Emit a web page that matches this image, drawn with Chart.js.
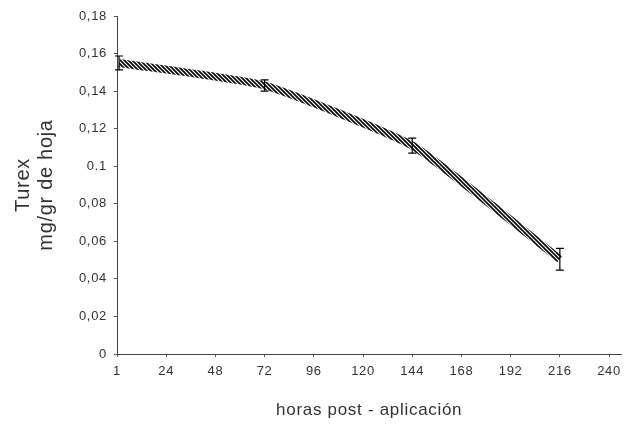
<!DOCTYPE html>
<html><head><meta charset="utf-8">
<script src="https://cdn.jsdelivr.net/npm/chart.js@4/dist/chart.umd.min.js"></script>
<style>html,body{margin:0;padding:0;background:#fff}#wrap{width:628px;height:427px;position:relative}</style>
</head><body><div id="wrap"><canvas id="c"></canvas></div>
<script>
const hours = [1, 72, 144, 216];
const turex = [0.155, 0.143, 0.111, 0.0505];
const errors = [0.0037, 0.003, 0.004, 0.0058];
const xTickLabels = ['1','24','48','72','96','120','144','168','192','216','240'];
const yTickLabels = ['0','0,02','0,04','0,06','0,08','0.1','0,12','0,14','0,16','0,18'];

function hatch(){
  const p = document.createElement('canvas');
  p.width = 4; p.height = 4;
  const g = p.getContext('2d');
  g.fillStyle = '#fff'; g.fillRect(0,0,4,4);
  g.strokeStyle = '#000'; g.lineWidth = 1.6;
  g.beginPath();
  g.moveTo(-1,-1); g.lineTo(5,5);
  g.moveTo(-1,3); g.lineTo(1,5);
  g.moveTo(3,-1); g.lineTo(5,1);
  g.stroke();
  return g.createPattern(p,'repeat');
}

const spacing = {
  id:'spacing',
  beforeInit(chart){ chart.ctx.letterSpacing = '0.7px'; },
  beforeUpdate(chart){ chart.ctx.letterSpacing = '0.7px'; },
  beforeDraw(chart){ chart.ctx.letterSpacing = '0.7px'; }
};

const errorBars = {
  id:'errorBars',
  afterDatasetsDraw(chart){
    const {ctx, scales:{x,y}} = chart;
    ctx.save();
    ctx.strokeStyle = '#000'; ctx.lineWidth = 1.2;
    hours.forEach((h,i)=>{
      const px = x.getPixelForValue(h);
      const t = y.getPixelForValue(turex[i]+errors[i]);
      const b = y.getPixelForValue(turex[i]-errors[i]);
      ctx.beginPath();
      ctx.moveTo(px,t); ctx.lineTo(px,b);
      ctx.moveTo(px-4,t); ctx.lineTo(px+4,t);
      ctx.moveTo(px-4,b); ctx.lineTo(px+4,b);
      ctx.stroke();
    });
    ctx.restore();
  }
};

const fam = '"Liberation Sans", Arial, sans-serif';
const font = {family:fam, size:13};
new Chart(document.getElementById('c'), {
  type:'line',
  data:{datasets:[{
    data: hours.map((h,i)=>({x:h, y:turex[i]})),
    borderColor: hatch(),
    borderWidth: 8,
    pointRadius: 0,
    tension: 0.15,
    fill: false
  }]},
  options:{
    responsive:true, maintainAspectRatio:false, animation:false,
    layout:{padding:{top:16, right:2, left:0, bottom:0}},
    plugins:{legend:{display:false}, tooltip:{enabled:false}},
    scales:{
      x:{
        type:'linear', min:0, max:246,
        afterFit(s){ s.height = 73; },
        ticks:{stepSize:24, includeBounds:false, font, color:'#333', padding:7,
          callback:(v,i)=>xTickLabels[i]},
        grid:{display:true, drawOnChartArea:false, drawTicks:true, tickLength:3, color:'#555'},
        border:{display:true, color:'#444', dash:[1,1], width:1},
        title:{display:true, text:'horas post - aplicación', font:{family:fam,size:17}, color:'#333', padding:{top:10,bottom:6}}
      },
      y:{
        min:0, max:0.18,
        afterFit(s){ s.width = 117; },
        ticks:{stepSize:0.02, font, color:'#333', padding:7,
          callback:(v,i)=>yTickLabels[i]},
        grid:{display:true, drawOnChartArea:false, drawTicks:true, tickLength:3, color:'#555'},
        border:{display:true, color:'#444', dash:[1,1], width:1},
        title:{display:true, text:['Turex','mg/gr de hoja'], font:{family:fam,size:20,lineHeight:1.15}, color:'#333', padding:{top:12,bottom:4}}
      }
    }
  },
  plugins:[spacing, errorBars]
});
</script></body></html>
